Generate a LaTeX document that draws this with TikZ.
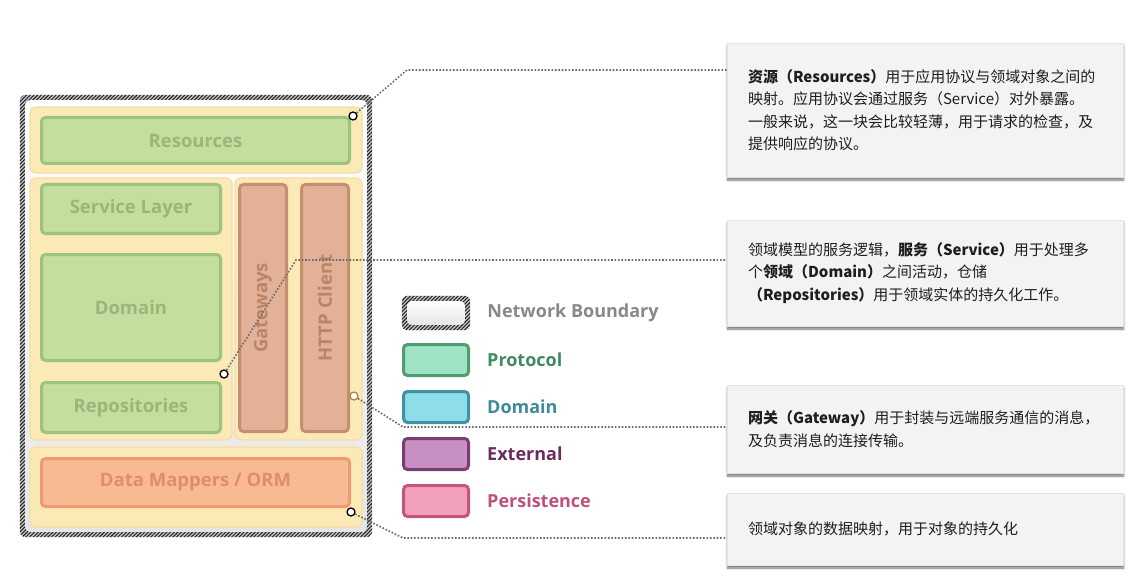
\documentclass[tikz,border=0pt]{standalone}
\usepackage{fontspec}
\setmainfont{Open Sans}
\newfontfamily\cjk{Noto Sans CJK SC}
\usetikzlibrary{positioning,patterns.meta,shadows.blur}
\definecolor{hatchline}{HTML}{262626}
\definecolor{hatchbg}{HTML}{C8C8C8}
\definecolor{zonefill}{HTML}{FBE9B6}
\definecolor{zoneline}{HTML}{F6DEA2}
\definecolor{leaffill}{HTML}{C4DEA0}
\definecolor{leafline}{HTML}{9CC480}
\definecolor{leaftext}{HTML}{96B878}
\definecolor{clayfill}{HTML}{E3B197}
\definecolor{clayline}{HTML}{C48E6F}
\definecolor{claytext}{HTML}{BA8466}
\definecolor{ormfill}{HTML}{F7BA93}
\definecolor{ormline}{HTML}{EE9B72}
\definecolor{ormtext}{HTML}{DE8F67}
\definecolor{protofill}{HTML}{9DE3C4}
\definecolor{protoline}{HTML}{4E9E72}
\definecolor{prototext}{HTML}{3F8B5F}
\definecolor{domfill}{HTML}{8FDCEA}
\definecolor{domline}{HTML}{3F93A3}
\definecolor{domtext}{HTML}{3D8A9D}
\definecolor{extfill}{HTML}{C78FC2}
\definecolor{extline}{HTML}{7A3F71}
\definecolor{exttext}{HTML}{6A2C5F}
\definecolor{persfill}{HTML}{F3A1BB}
\definecolor{persline}{HTML}{C3557E}
\definecolor{perstext}{HTML}{BF507A}
\definecolor{nettext}{HTML}{888888}
\definecolor{notefill}{HTML}{F3F3F3}
\definecolor{noteline}{HTML}{E4E4E4}
\definecolor{notetext}{HTML}{1E1E1E}
\definecolor{leadgray}{HTML}{6A6A6A}
\tikzset{
  zonebox/.style={
    rectangle, draw=zoneline, fill=zonefill, line width=1.2pt,
    rounded corners=6pt
  },
  layerbox/.style={
    rectangle, draw=#1line, fill=#1fill, text=#1text, line width=3pt,
    rounded corners=4pt, font=\fontsize{18.5}{22}\selectfont\bfseries,
    inner sep=0pt
  },
  layerbox/.default=leaf,
  keybox/.style={
    rectangle, draw=#1line, fill=#1fill, line width=3pt,
    rounded corners=4pt, minimum width=65pt, minimum height=31pt
  },
  keylabel/.style={
    text=#1, font=\fontsize{18}{21}\selectfont\bfseries,
    inner sep=0pt, anchor=west
  },
  hatchband/.style={
    rounded corners=#1,
    preaction={fill=hatchbg, even odd rule},
    pattern={Lines[angle=45,distance=2.6pt,line width=1.1pt]},
    pattern color=hatchline, even odd rule
  },
  hatchband/.default=6pt,
  note/.style={
    rectangle, fill=notefill, draw=noteline, line width=0.5pt,
    minimum width=396pt, text width=354pt, inner xsep=21pt,
    align=left, text=notetext, font=\cjk\fontsize{15}{22.5}\selectfont,
    blur shadow={shadow xshift=0.5pt, shadow yshift=-3pt,
      shadow blur steps=6, shadow opacity=55}
  },
  leader/.style={
    color=leadgray, line width=1.6pt, dash pattern=on 1.6pt off 1.8pt
  },
  dot/.style={
    circle, draw=#1, fill=white, line width=1.3pt,
    inner sep=0pt, minimum size=8pt
  },
  dot/.default=black,
}

\begin{document}
\begin{tikzpicture}[x=1pt, y=-1pt]
  \useasboundingbox (0,0) rectangle (1147,585);

  % network boundary
  \node[rectangle, rounded corners=3pt, minimum width=342pt, minimum height=432pt,
        top color=white, bottom color=black!10, inner sep=0pt] (net) at (196,316) {};
  \fill[hatchband] ([shift={(-5,-5)}]net.north west) rectangle ([shift={(5,5)}]net.south east)
                   (net.north west) rectangle (net.south east);

  % yellow zones
  \node[zonebox, minimum width=332pt, minimum height=66pt] (zoneRes) at (196,140) {};
  \node[zonebox, minimum width=202pt, minimum height=262pt] (zoneMid) at (131,309) {};
  \node[zonebox, minimum width=127pt, minimum height=262pt] (zoneGate) at (298.5,309) {};
  \node[zonebox, minimum width=332pt, minimum height=80pt] (zoneOrm) at (196,487) {};

  % layers
  \node[layerbox, minimum width=308pt, minimum height=46pt] (res) at (195.5,140.5) {Resources};
  \node[layerbox, minimum width=179pt, minimum height=49pt] (svc) at (131,209) {Service Layer};
  \node[layerbox, minimum width=179pt, minimum height=106pt] (dom) at (131,307.5) {Domain};
  \node[layerbox, minimum width=179pt, minimum height=50pt] (repo) at (131,407.5) {Repositories};
  \node[layerbox=clay, rotate=90, minimum width=247pt, minimum height=47pt] (gate) at (263,308) {Gateways};
  \node[layerbox=clay, rotate=90, minimum width=247pt, minimum height=47pt] (http) at (325,308) {HTTP Client};
  \node[layerbox=orm, minimum width=308pt, minimum height=48pt] (orm) at (195.5,482.5) {Data Mappers / ORM};

  % legend
  \node[rectangle, rounded corners=2pt, minimum width=58pt, minimum height=24pt,
        top color=white, bottom color=black!10, inner sep=0pt] (keyNet) at (436,313) {};
  \fill[hatchband=5pt] ([shift={(-5,-5)}]keyNet.north west) rectangle ([shift={(5,5)}]keyNet.south east)
                       (keyNet.north west) rectangle (keyNet.south east);
  \node[keybox=proto] (keyProto) at (436,360) {};
  \node[keybox=dom] (keyDom) at (436,407) {};
  \node[keybox=ext] (keyExt) at (436,454) {};
  \node[keybox=pers] (keyPers) at (436,501) {};
  \node[keylabel=nettext, right=22pt of keyNet] (txtNet) {Network Boundary};
  \node[keylabel=prototext, right=17pt of keyProto] (txtProto) {Protocol};
  \node[keylabel=domtext, right=17pt of keyDom] (txtDom) {Domain};
  \node[keylabel=exttext, right=17pt of keyExt] (txtExt) {External};
  \node[keylabel=perstext, right=17pt of keyPers] (txtPers) {Persistence};

  % notes
  \node[note, minimum height=134pt] (note1) at (925,110)
    {\textbf{资源（Resources）}用于应用协议与领域对象之间的\\
     映射。应用协议会通过服务（Service）对外暴露。\\
     一般来说，这一块会比较轻薄，用于请求的检查，及\\
     提供响应的协议。};
  \node[note, minimum height=106pt] (note2) at (925,273)
    {领域模型的服务逻辑，\textbf{服务（Service）}用于处理多\\
     个\textbf{领域（Domain）}之间活动，仓储\\
     \textbf{（Repositories）}用于领域实体的持久化工作。};
  \node[note, minimum height=88pt] (note3) at (925,429)
    {\textbf{网关（Gateway）}用于封装与远端服务通信的消息，\\
     及负责消息的连接传输。};
  \node[note, minimum height=72pt] (note4) at (925,529)
    {领域对象的数据映射，用于对象的持久化};

  % leaders
  \coordinate (k1) at (407,70);
  \coordinate (k2) at (296,260);
  \coordinate (k3) at (403,427);
  \coordinate (k4) at (403,538);
  \node[dot] (dot1) at (353,116) {};
  \node[dot] (dot2) at (224,374) {};
  \node[dot=clayline!60!olive] (dot3) at (354,396) {};
  \node[dot] (dot4) at (351,512) {};
  \draw[leader] (dot1) -- (k1) -- (k1 -| note1.west);
  \draw[leader] (dot2) -- (k2) -- (k2 -| note2.west);
  \draw[leader] (dot3) -- (k3) -- (k3 -| note3.west);
  \draw[leader] (dot4) -- (k4) -- (k4 -| note4.west);
\end{tikzpicture}
\end{document}
